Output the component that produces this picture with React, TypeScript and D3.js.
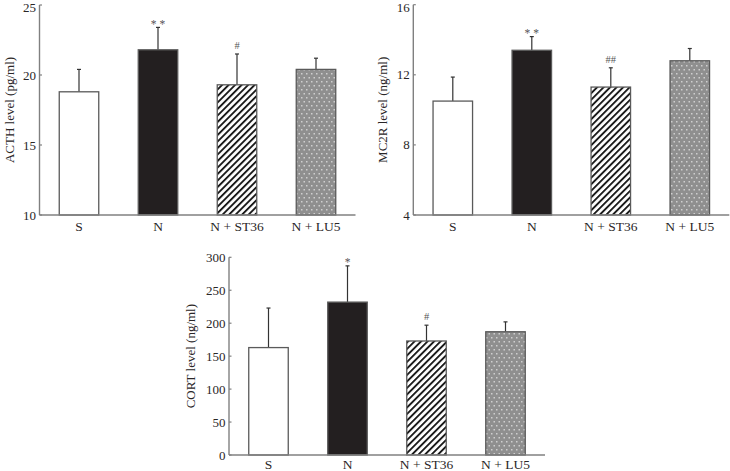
import React from "react";
import * as d3 from "d3";

const groups = ["S", "N", "N + ST36", "N + LU5"];

const acthMean = [18.8, 21.8, 19.3, 20.4];
const acthSD = [1.6, 1.6, 2.2, 0.8];
const acthMarks = ["", "* *", "#", ""];
const acthTicks = [10, 15, 20, 25];

const mc2rMean = [10.5, 13.4, 11.3, 12.8];
const mc2rSD = [1.37, 0.78, 1.1, 0.7];
const mc2rMarks = ["", "* *", "##", ""];
const mc2rTicks = [4, 8, 12, 16];

const cortMean = [163, 232, 173, 187];
const cortSD = [60, 55, 24, 15];
const cortMarks = ["", "*", "#", ""];
const cortTicks = [0, 50, 100, 150, 200, 250, 300];

const FONT = "'Liberation Serif', 'Times New Roman', serif";
const TEXT = "#2a2627";
const AXIS = "#808080";

const fills = ["#ffffff", "#231f20", "url(#hatch)", "url(#dots)"];

type PanelProps = {
  x0: number;
  x1: number;
  yTop: number;
  yBottom: number;
  domain: [number, number];
  ticks: number[];
  means: number[];
  sds: number[];
  marks: string[];
  label: string;
  labelX: number;
  catDy: number;
};

function Panel(p: PanelProps) {
  const x = d3.scaleBand<string>().domain(groups).range([p.x0, p.x1]).paddingInner(0.5).paddingOuter(0.25);
  const y = d3.scaleLinear().domain(p.domain).range([p.yBottom, p.yTop]);
  const bw = x.bandwidth();
  return (
    <g>
      {groups.map((g, i) => {
        const bx = x(g)!;
        const top = y(p.means[i]);
        const et = y(p.means[i] + p.sds[i]);
        const cx = bx + bw / 2;
        const m = p.marks[i];
        const isStar = m.includes("*");
        return (
          <g key={g}>
            <line x1={cx} x2={cx} y1={top} y2={et} stroke="#333" strokeWidth={1.2} />
            <line x1={cx - 2} x2={cx + 2} y1={et} y2={et} stroke="#333" strokeWidth={1.2} />
            <rect x={bx} y={top} width={bw} height={p.yBottom - top} fill={fills[i]} stroke="#5a5a5a" strokeWidth={1.3} />
            {m && (
              <text x={cx} y={isStar ? et + 0.5 : et - 5} textAnchor="middle" fontFamily={FONT} fontSize={isStar ? 11.5 : 10.5} fill="#555">
                {m}
              </text>
            )}
            <text x={cx} y={p.yBottom + p.catDy} textAnchor="middle" fontFamily={FONT} fontSize={13.5} fill={TEXT}>
              {g}
            </text>
          </g>
        );
      })}
      <line x1={p.x0} x2={p.x0} y1={p.yTop} y2={p.yBottom} stroke={AXIS} strokeWidth={1.4} />
      <line x1={p.x0} x2={p.x1} y1={p.yBottom} y2={p.yBottom} stroke={AXIS} strokeWidth={1.4} />
      {p.ticks.map((t) => (
        <g key={t}>
          <line x1={p.x0} x2={p.x0 + 2.5} y1={y(t)} y2={y(t)} stroke={AXIS} strokeWidth={1.2} />
          <text x={p.x0 - 3.5} y={Math.max(y(t), 7)} dy="0.35em" textAnchor="end" fontFamily={FONT} fontSize={13} fill={TEXT}>
            {t}
          </text>
        </g>
      ))}
      <text
        transform={`translate(${p.labelX},${(p.yTop + p.yBottom) / 2}) rotate(-90)`}
        textAnchor="middle"
        dy="0.35em"
        fontFamily={FONT}
        fontSize={13}
        fill={TEXT}
      >
        {p.label}
      </text>
    </g>
  );
}

export default function App() {
  return (
    <svg
      width={730}
      height={471}
      style={{ position: "absolute", left: 0, top: 0, display: "block", background: "#fff" }}
    >
      <defs>
        <pattern id="hatch" patternUnits="userSpaceOnUse" width={4.6} height={4.6} patternTransform="rotate(45)">
          <rect x={0} y={0} width={4.6} height={4.6} fill="#fff" />
          <rect x={0} y={0} width={1.9} height={4.6} fill="#1a1a1a" />
        </pattern>
        <pattern id="dots" patternUnits="userSpaceOnUse" width={5} height={8}>
          <rect x={0} y={0} width={5} height={8} fill="#8f8f8f" />
          <rect x={1} y={1} width={1.5} height={1.5} fill="#cfcfcf" />
          <rect x={3.5} y={5} width={1.5} height={1.5} fill="#cfcfcf" />
        </pattern>
      </defs>
      <Panel
        x0={39.5}
        x1={355.5}
        yTop={5}
        yBottom={215}
        domain={[10, 25]}
        ticks={acthTicks}
        means={acthMean}
        sds={acthSD}
        marks={acthMarks}
        label="ACTH level (pg/ml)"
        labelX={9}
        catDy={16}
      />
      <Panel
        x0={413.3}
        x1={729.3}
        yTop={4.7}
        yBottom={215}
        domain={[4, 16]}
        ticks={mc2rTicks}
        means={mc2rMean}
        sds={mc2rSD}
        marks={mc2rMarks}
        label="MC2R level (ng/ml)"
        labelX={382}
        catDy={16}
      />
      <Panel
        x0={229}
        x1={545}
        yTop={257.3}
        yBottom={455}
        domain={[0, 300]}
        ticks={cortTicks}
        means={cortMean}
        sds={cortSD}
        marks={cortMarks}
        label="CORT level (ng/ml)"
        labelX={190}
        catDy={14}
      />
    </svg>
  );
}
